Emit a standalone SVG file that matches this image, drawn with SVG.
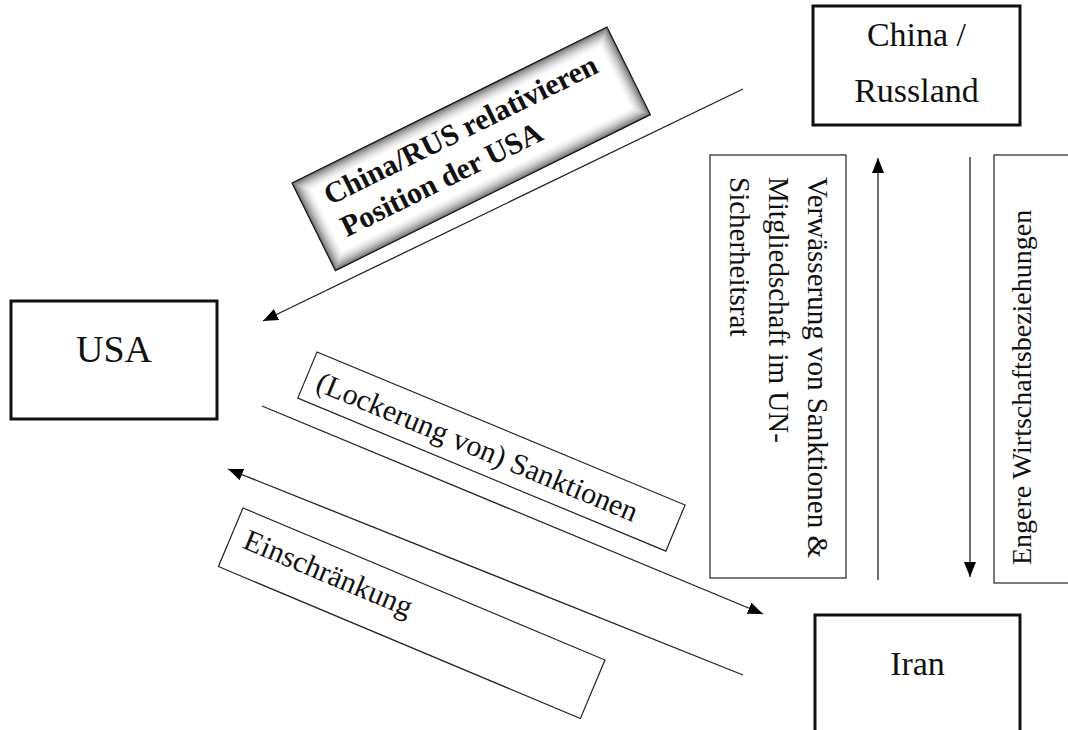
<svg xmlns="http://www.w3.org/2000/svg" width="1068" height="730" viewBox="0 0 1068 730">
<style>
.node{fill:#fff;stroke:#111;stroke-width:3}
.lbl{fill:#fff;stroke:#222;stroke-width:1.2}
.t{font-family:"Liberation Serif","Times New Roman",serif;fill:#111}
.conn{stroke:#222;stroke-width:1.3;fill:none;marker-end:url(#ah)}
.sh{fill:none;stroke:#000;stroke-width:2}
</style>
<defs>
<marker id="ah" markerUnits="userSpaceOnUse" markerWidth="16" markerHeight="14" refX="15" refY="6" orient="auto">
<path d="M0,0 L15,6 L0,12 Z" fill="#000"/>
</marker>
</defs>
<rect width="1068" height="730" fill="#fff"/>

<g id="china-russland">
<rect class="node" x="813" y="6" width="207" height="119"/>
<text class="t" x="916.5" y="46" font-size="34" text-anchor="middle">China /</text>
<text class="t" x="916.5" y="102" font-size="34" text-anchor="middle">Russland</text>
</g>

<g id="usa">
<rect class="node" x="11" y="301" width="206" height="118"/>
<text class="t" x="114" y="362" font-size="38" text-anchor="middle">USA</text>
</g>

<g id="iran">
<rect class="node" x="815" y="615" width="205" height="130"/>
<text class="t" x="917.5" y="675" font-size="34" text-anchor="middle">Iran</text>
</g>

<g id="label-relativieren" transform="translate(292,183) rotate(-26.35)">
<rect x="0" y="0" width="351.5" height="97.8" fill="#fff"/>
<rect class="sh" x="1" y="1" width="349.5" height="95.8" stroke-opacity="0.55"/>
<rect class="sh" x="3" y="3" width="345.5" height="91.8" stroke-opacity="0.42"/>
<rect class="sh" x="5" y="5" width="341.5" height="87.8" stroke-opacity="0.31"/>
<rect class="sh" x="7" y="7" width="337.5" height="83.8" stroke-opacity="0.21"/>
<rect class="sh" x="9" y="9" width="333.5" height="79.8" stroke-opacity="0.14"/>
<rect class="sh" x="11" y="11" width="329.5" height="75.8" stroke-opacity="0.08"/>
<rect class="sh" x="13" y="13" width="325.5" height="71.8" stroke-opacity="0.04"/>
<rect x="0" y="0" width="351.5" height="97.8" fill="none" stroke="#111" stroke-width="1.2"/>
<text class="t" x="24" y="37" font-size="30" font-weight="bold">China/RUS relativieren</text>
<text class="t" x="25" y="73" font-size="30" font-weight="bold">Position der USA</text>
</g>

<g id="label-sanktionen" transform="translate(317,352) rotate(22.57)">
<rect class="lbl" x="0" y="0" width="398.6" height="50"/>
<text class="t" x="12" y="36" font-size="30">(Lockerung von) Sanktionen</text>
</g>

<g id="label-einschraenkung" transform="translate(243,508) rotate(22.78)">
<rect class="lbl" x="0" y="0" width="392.6" height="63.5"/>
<text class="t" x="14" y="37" font-size="30">Einschränkung</text>
</g>

<g id="label-verwaesserung">
<rect class="lbl" x="710" y="155" width="136" height="423"/>
<text class="t" font-size="29" transform="translate(808,177) rotate(90)">
<tspan x="0" y="0">Verwässerung von Sanktionen &amp;</tspan>
<tspan x="0" y="39">Mitgliedschaft im UN-</tspan>
<tspan x="0" y="78">Sicherheitsrat</tspan>
</text>
</g>

<g id="label-wirtschaft">
<rect class="lbl" x="994" y="155" width="100" height="428"/>
<text class="t" font-size="28" transform="translate(1031,565) rotate(-90)">Engere Wirtschaftsbeziehungen</text>
</g>

<g id="connectors">
<line class="conn" x1="743" y1="89" x2="263" y2="321"/>
<line class="conn" x1="262" y1="406" x2="763" y2="614"/>
<line class="conn" x1="743" y1="675" x2="228" y2="469"/>
<line class="conn" x1="878" y1="580" x2="878" y2="158"/>
<line class="conn" x1="970" y1="157" x2="970" y2="577"/>
</g>
</svg>
